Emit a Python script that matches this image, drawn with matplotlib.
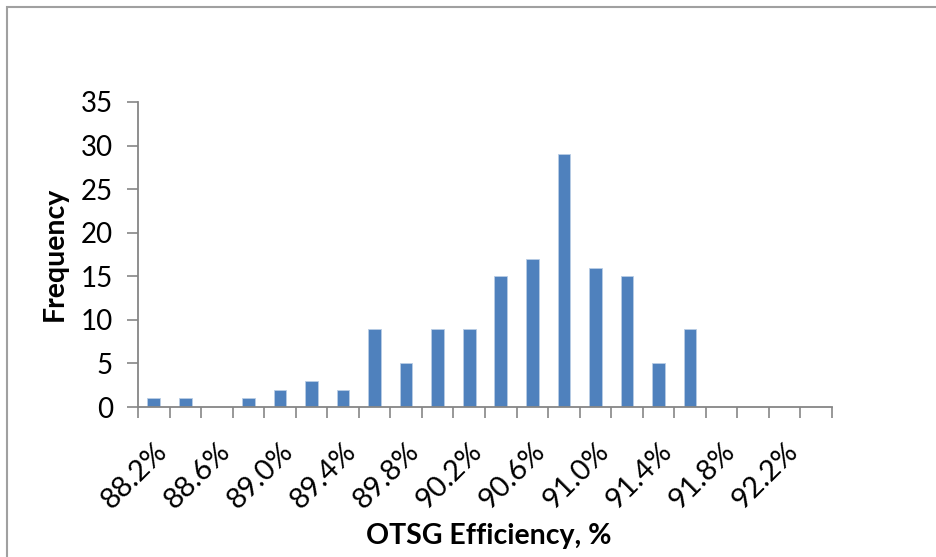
import matplotlib.pyplot as plt
from matplotlib.patches import Rectangle

# efficiency bins (%), step 0.2
bins = [88.2, 88.4, 88.6, 88.8, 89.0, 89.2, 89.4, 89.6, 89.8, 90.0, 90.2,
        90.4, 90.6, 90.8, 91.0, 91.2, 91.4, 91.6, 91.8, 92.0, 92.2, 92.4]
counts = [1, 1, 0, 1, 2, 3, 2, 9, 5, 9, 9,
          15, 17, 29, 16, 15, 5, 9, 0, 0, 0, 0]
yticks = [0, 5, 10, 15, 20, 25, 30, 35]

plt.rcParams['font.family'] = ['Lato', 'DejaVu Sans']
axis_grey = "#868686"

fig = plt.figure(figsize=(9.36, 5.57), dpi=100)
ax = fig.add_axes([138 / 936, 1 - 407 / 557, (832 - 138) / 936, (407 - 102) / 557])

x = list(range(len(bins)))
ax.bar(x, counts, width=0.4, color="#4F81BD", edgecolor="#B9CDE5", linewidth=0.6)

ax.set_xlim(-0.5, len(bins) - 0.5)
ax.set_ylim(0, 35)
ax.set_yticks(yticks)
ax.tick_params(axis="y", labelsize=20, length=8, width=1.2, color=axis_grey, pad=10)

# ticks between categories, labels on every other category
ax.set_xticks([i - 0.5 for i in range(len(bins) + 1)])
ax.set_xticklabels([])
ax.tick_params(axis="x", which="major", length=8, width=1.2, color=axis_grey)
ax.set_xticks(x[::2], minor=True)
ax.set_xticklabels([f"{b:.1f}%" for b in bins[::2]], minor=True,
                   rotation=45, ha="right", va="top", rotation_mode="anchor", fontsize=21)
ax.tick_params(axis="x", which="minor", length=0, pad=22)

for side in ["top", "right"]:
    ax.spines[side].set_visible(False)
for side in ["left", "bottom"]:
    ax.spines[side].set_color(axis_grey)
    ax.spines[side].set_linewidth(1.3)

fig.text(55 / 936, 1 - 254 / 557, "Frequency", rotation=90, ha="center", va="center",
         fontsize=20.5, fontweight="bold")
fig.text(489 / 936, 1 - 536 / 557, "OTSG Efficiency, %", ha="center", va="center",
         fontsize=20.5, fontweight="bold")

# chart border
fig.patches.append(Rectangle((7 / 936, -0.1), 1.2, 1 - 7 / 557 + 0.1, transform=fig.transFigure,
                             fill=False, edgecolor="#A0A0A0", linewidth=1.5))

plt.savefig("out.png", dpi=100)
